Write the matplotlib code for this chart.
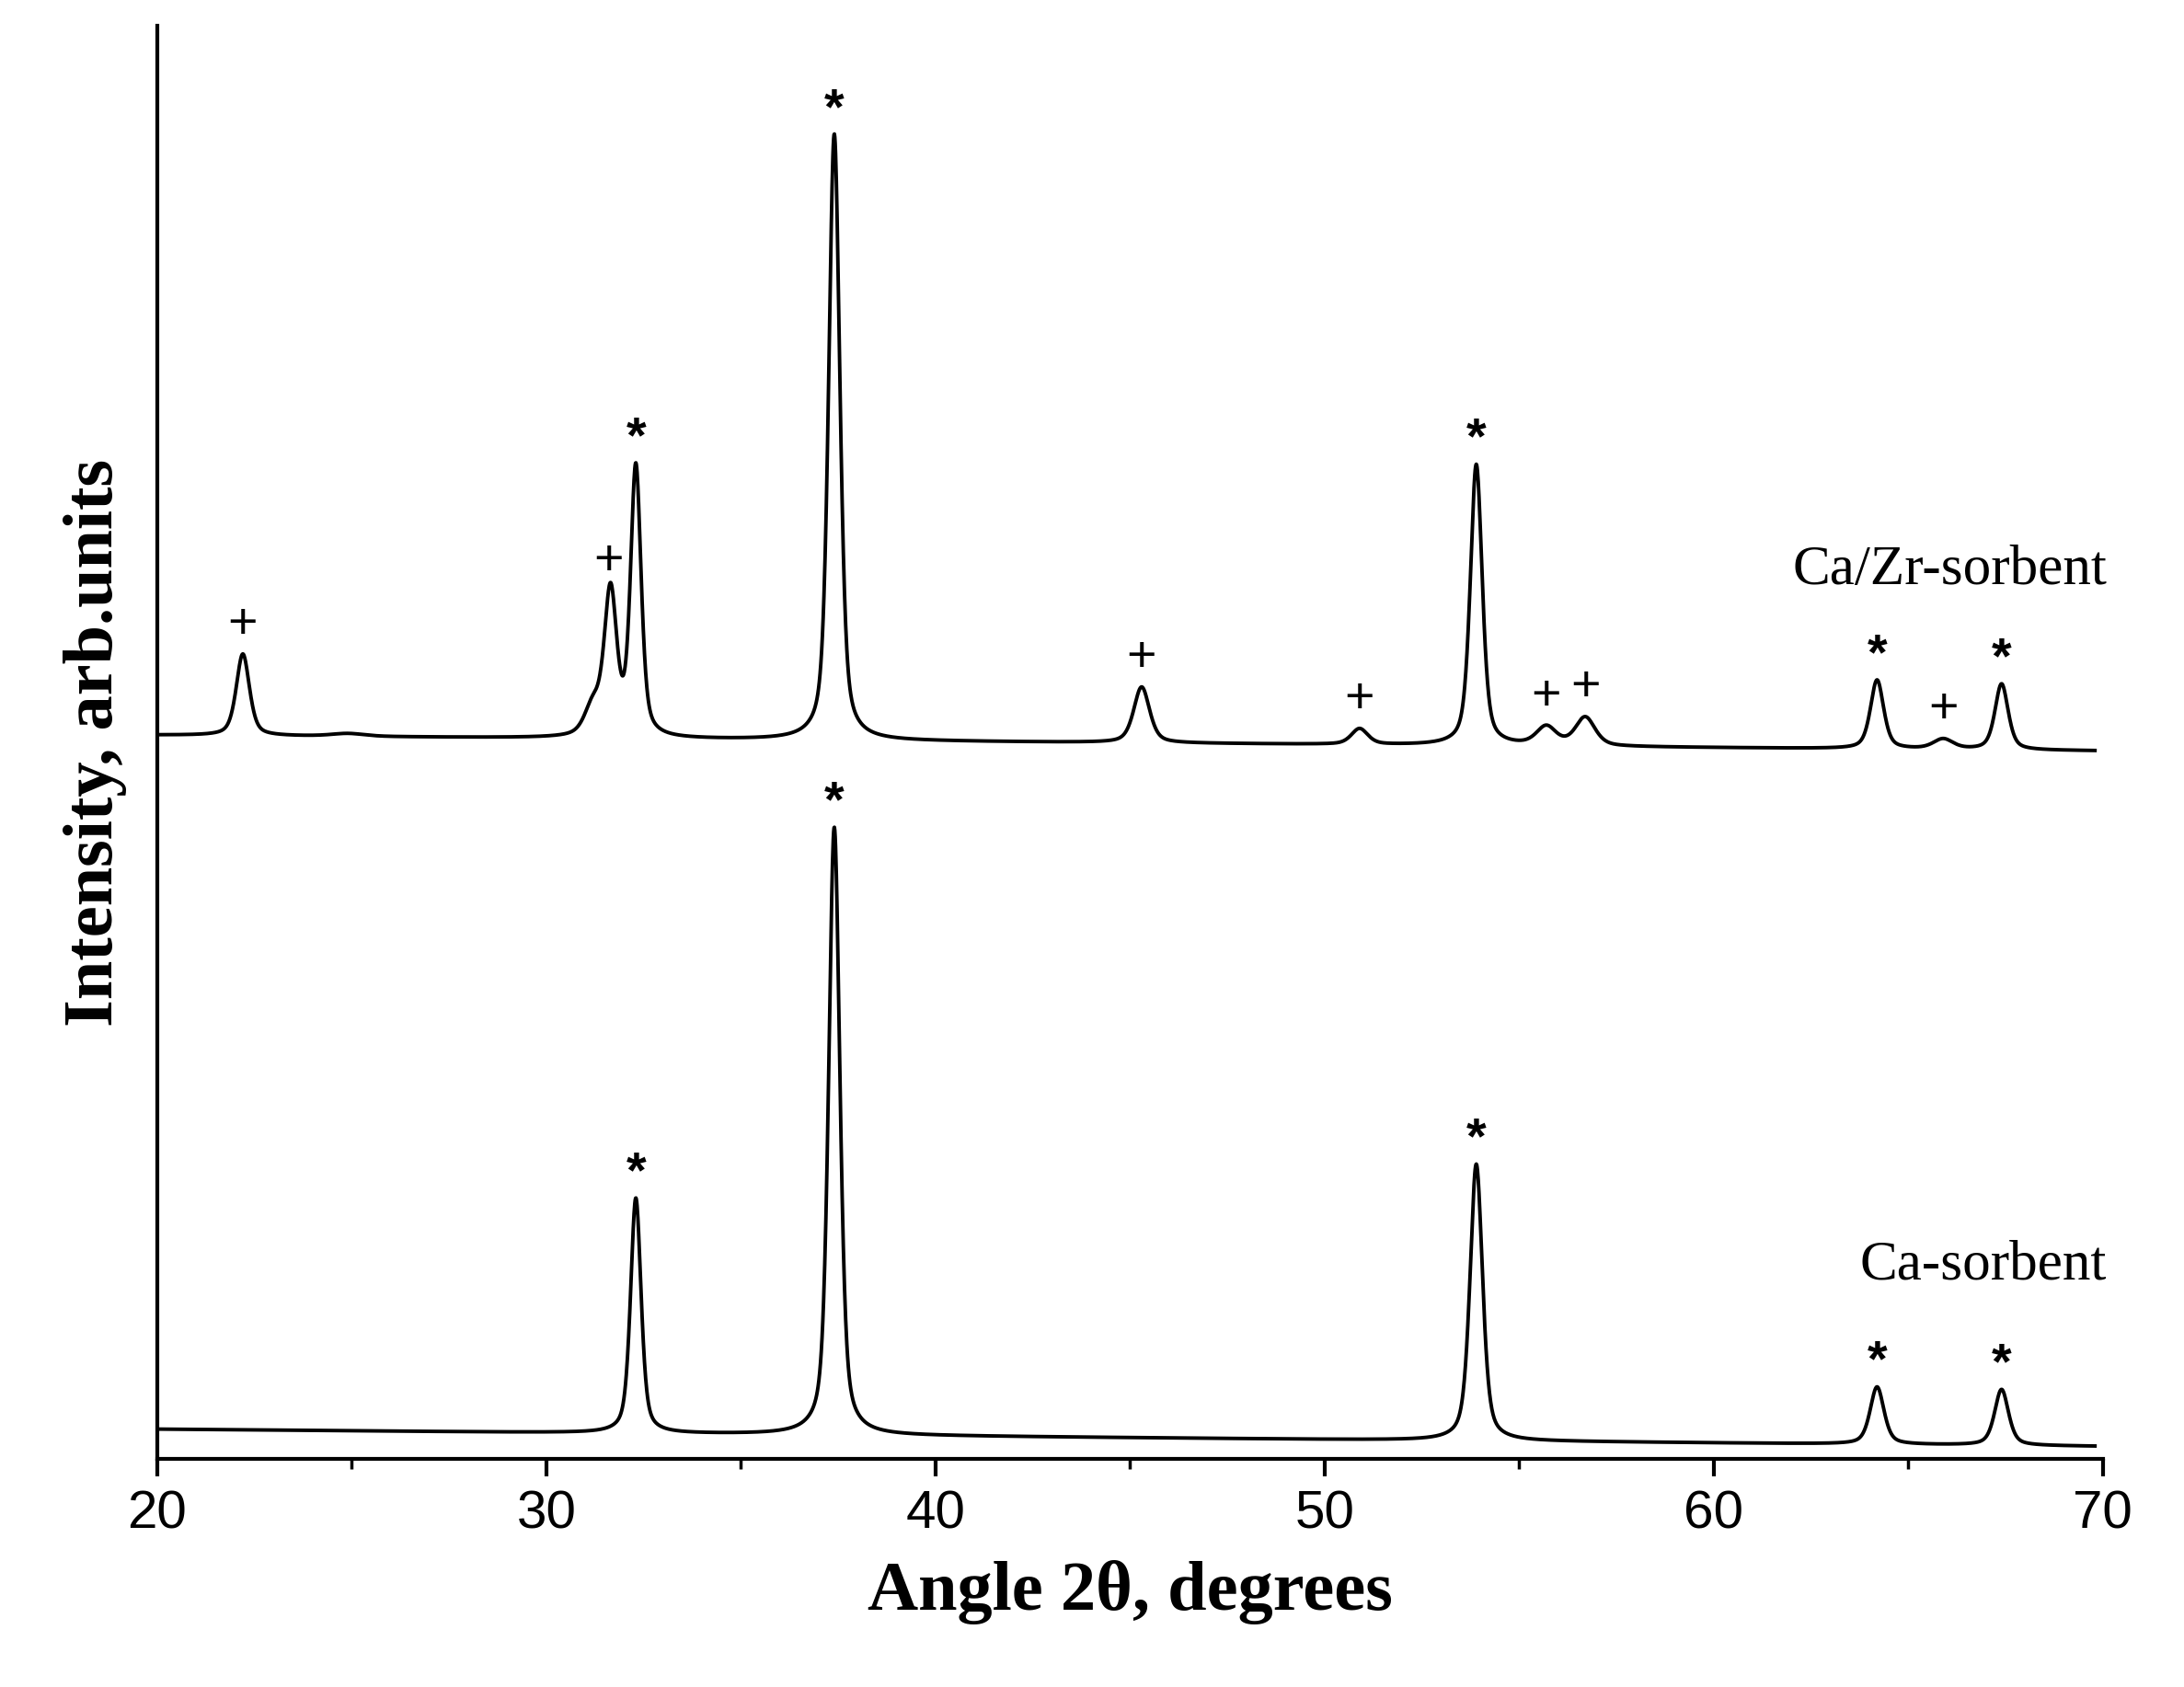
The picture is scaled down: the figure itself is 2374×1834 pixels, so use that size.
import numpy as np
import matplotlib
matplotlib.use("Agg")
import matplotlib.pyplot as plt
from matplotlib.ticker import MultipleLocator

# Peak tables (position deg, height above baseline, FWHM deg)
ca_pos = [32.3, 37.4, 53.9, 64.2, 67.4]
ca_h = [16.4, 42.4, 19.3, 4.0, 3.9]
ca_w = [0.32, 0.34, 0.38, 0.42, 0.42]
ca_base = [2.1, 0.9]  # baseline at 20 and 70

zr_pos = [22.2, 24.9, 31.2, 31.65, 32.3, 37.4, 45.3, 50.9, 53.9, 55.7, 56.7, 64.2, 65.9, 67.4]
zr_h = [5.7, 0.2, 2.0, 10.0, 18.8, 42.3, 3.9, 1.1, 19.6, 1.3, 2.0, 4.8, 0.7, 4.6]
zr_w = [0.40, 1.0, 0.5, 0.38, 0.32, 0.34, 0.48, 0.5, 0.36, 0.6, 0.6, 0.40, 0.6, 0.40]
zr_base = [50.5, 49.4]

ca_star = [32.3, 37.4, 53.9, 64.2, 67.4]
zr_star = [32.3, 37.4, 53.9, 64.2, 67.4]
zr_plus = [22.2, 31.6, 45.3, 50.9, 55.7, 56.7, 65.9]

x = np.linspace(20, 69.8, 5000)

def profile(pos, h, w, base):
    y = base[0] + (base[1] - base[0]) * (x - 20) / 50
    for p, a, fw in zip(pos, h, w):
        g = (fw / 2) ** 2
        y = y + a * (0.5 * g / ((x - p) ** 2 + g) + 0.5 * np.exp(-4 * np.log(2) * (x - p) ** 2 / fw ** 2))
    return y

yca = profile(ca_pos, ca_h, ca_w, ca_base)
yzr = profile(zr_pos, zr_h, zr_w, zr_base)

fig = plt.figure(figsize=(23.74, 18.34), dpi=100)
ax = fig.add_axes([0.072, 0.135, 0.901 * 1396 / 1412, 0.85])
ax.plot(x, yca, color="black", lw=2.8)
ax.plot(x, yzr, color="black", lw=2.8)

def mark(xs, ycurve, sym, off, size, weight):
    for p in xs:
        yv = np.interp(p, x, ycurve)
        ax.text(p, yv + off, sym, ha="center", va="bottom", fontsize=size,
                family="Liberation Sans", fontweight=weight, color="black")

mark(ca_star, yca, "*", 0.0, 40, "bold")
mark(zr_star, yzr, "*", 0.0, 40, "bold")
mark(zr_plus, yzr, "+", 0.3, 40, "normal")

ax.text(70.1, 62.0, "Ca/Zr-sorbent", ha="right", va="center", fontsize=44, family="Liberation Serif")
ax.text(70.1, 13.5, "Ca-sorbent", ha="right", va="center", fontsize=44, family="Liberation Serif")

ax.set_xlim(20, 70)
ax.set_ylim(0, 100)
ax.spines["top"].set_visible(False)
ax.spines["right"].set_visible(False)
ax.spines["left"].set_linewidth(3)
ax.spines["bottom"].set_linewidth(3)
ax.set_yticks([])
ax.xaxis.set_major_locator(MultipleLocator(10))
ax.xaxis.set_minor_locator(MultipleLocator(5))
ax.tick_params(axis="x", which="major", length=14, width=3, labelsize=42, pad=10)
ax.tick_params(axis="x", which="minor", length=8, width=2.5)
for lab in ax.get_xticklabels():
    lab.set_family("Liberation Sans")
ax.set_xlabel("Angle 2θ, degrees", fontsize=55, fontweight="bold", family="Liberation Serif", labelpad=16)
ax.set_ylabel("Intensity, arb.units", fontsize=55, fontweight="bold", family="Liberation Serif", labelpad=24)
fig.savefig("out.png", dpi=100)
